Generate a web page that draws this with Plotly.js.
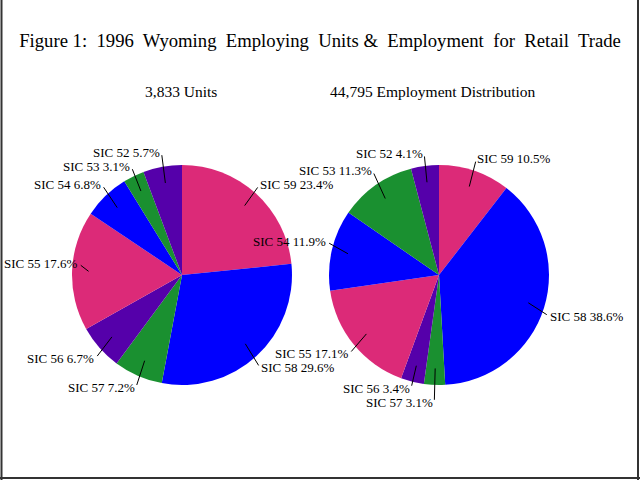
<!DOCTYPE html>
<html><head><meta charset="utf-8">
<script src="https://cdn.plot.ly/plotly-3.0.1.min.js"></script>
<style>html,body{margin:0;padding:0;background:#fff}#chart{width:640px;height:480px}</style>
</head><body><div id="chart"></div>
<script>
const categories = ['SIC 59','SIC 58','SIC 57','SIC 56','SIC 55','SIC 54','SIC 53','SIC 52'];
const unitsPct = [23.4, 29.6, 7.2, 6.7, 17.6, 6.8, 3.1, 5.7];
const employmentPct = [10.5, 38.6, 3.1, 3.4, 17.1, 11.9, 11.3, 4.1];
const sliceColors = ['#DC2A78','#0000FF','#1A9030','#5500AA','#DC2A78','#0000FF','#1A9030','#5500AA'];
const chartTitle = 'Figure 1:&nbsp; 1996&nbsp; Wyoming&nbsp; Employing&nbsp; Units &amp;&nbsp; Employment&nbsp; for&nbsp; Retail&nbsp; Trade';
const subTitles = ['3,833 Units', '44,795 Employment Distribution'];

const W = 640, H = 480;
const FONT = '"Liberation Serif", "DejaVu Serif", serif';
const LABEL_SIZE = 13, CHAR_W = 6.2, LINE_H = 14;
const pies = [
  {vals: unitsPct, cx: 182, cy: 275, r: 110, tx: 181},
  {vals: employmentPct, cx: 439, cy: 275, r: 110, tx: 433}
];

const traces = [];
const annotations = [];
const allLabs = [];
pies.forEach((p, k) => {
  traces.push({
    type: 'pie', labels: categories, values: p.vals, sort: false,
    direction: 'clockwise', rotation: 0, textinfo: 'none', hoverinfo: 'label+percent',
    marker: {colors: sliceColors, line: {width: 0}},
    domain: {x: [(p.cx - p.r) / W, (p.cx + p.r) / W], y: [1 - (p.cy + p.r) / H, 1 - (p.cy - p.r) / H]},
    showlegend: false
  });
  annotations.push({xref: 'paper', yref: 'paper', x: p.tx / W, y: 1 - 91 / H, text: subTitles[k],
    showarrow: false, font: {family: FONT, size: 15.5, color: '#000'}, xanchor: 'center', yanchor: 'middle'});
  const total = p.vals.reduce((a, b) => a + b, 0);
  let cum = 0;
  p.vals.forEach((v, i) => {
    const a = (cum + v / 2) / total * 2 * Math.PI;
    cum += v;
    const s = Math.sin(a), c = Math.cos(a);
    const tipR = 0.85 * p.r, labR = 1.05 * p.r;
    const text = categories[i] + ' ' + v.toFixed(1) + '%';
    const w = text.length * CHAR_W;
    const side = s >= 0 ? 1 : -1;
    let ax = p.cx + labR * s;           // box edge nearest the pie
    let ay = p.cy - labR * c - Math.sign(c) * LINE_H / 2;  // box centre y
    if (side < 0) ax = Math.max(ax, 4 + w); else ax = Math.min(ax, W - 4 - w);
    allLabs.push({text, side, w, tx: p.cx + tipR * s, ty: p.cy - tipR * c, ax, ay});
  });
});
// resolve overlaps between label boxes
function box(l) { return l.side > 0 ? [l.ax, l.ax + l.w] : [l.ax - l.w, l.ax]; }
for (let iter = 0; iter < 30; iter++) {
  let moved = false;
  for (let a = 0; a < allLabs.length; a++) for (let b = a + 1; b < allLabs.length; b++) {
    const A = allLabs[a], B = allLabs[b];
    const ba = box(A), bb = box(B);
    if (ba[1] <= bb[0] || bb[1] <= ba[0]) continue;
    const dy = B.ay - A.ay;
    if (Math.abs(dy) < LINE_H) {
      const push = (LINE_H - Math.abs(dy)) / 2 + 0.1;
      const dir = dy >= 0 ? 1 : -1;
      A.ay -= dir * push; B.ay += dir * push; moved = true;
    }
  }
  if (!moved) break;
}
allLabs.forEach(l => {
  annotations.push({
    xref: 'paper', yref: 'paper', x: l.tx / W, y: 1 - l.ty / H,
    ax: l.ax - l.tx, ay: l.ay - l.ty, axref: 'pixel', ayref: 'pixel',
    text: l.text,
    showarrow: true, arrowhead: 0, arrowwidth: 1, arrowcolor: '#000', standoff: 0, startstandoff: 3,
    xanchor: l.side > 0 ? 'left' : 'right', yanchor: 'middle', borderpad: 0,
    font: {family: FONT, size: LABEL_SIZE, color: '#000'}
  });
});

const layout = {
  width: W, height: H,
  margin: {l: 0, r: 0, t: 0, b: 0},
  paper_bgcolor: '#fff', plot_bgcolor: '#fff',
  title: {text: chartTitle, x: 0.5, xanchor: 'center', y: 1 - 40 / H, yanchor: 'middle', yref: 'container',
    font: {family: FONT, size: 18.7, color: '#000'}},
  annotations: annotations,
  shapes: [
    {type: 'line', xref: 'paper', yref: 'paper', x0: 1.5 / W, x1: 1.5 / W, y0: 0, y1: 1, line: {color: '#333', width: 2}},
    {type: 'line', xref: 'paper', yref: 'paper', x0: 1 - 2 / W, x1: 1 - 2 / W, y0: 0, y1: 1, line: {color: '#333', width: 2}},
    {type: 'line', xref: 'paper', yref: 'paper', x0: 0, x1: 1, y0: 2 / H, y1: 2 / H, line: {color: '#333', width: 2}}
  ]
};
Plotly.newPlot('chart', traces, layout, {staticPlot: true});
</script></body></html>
